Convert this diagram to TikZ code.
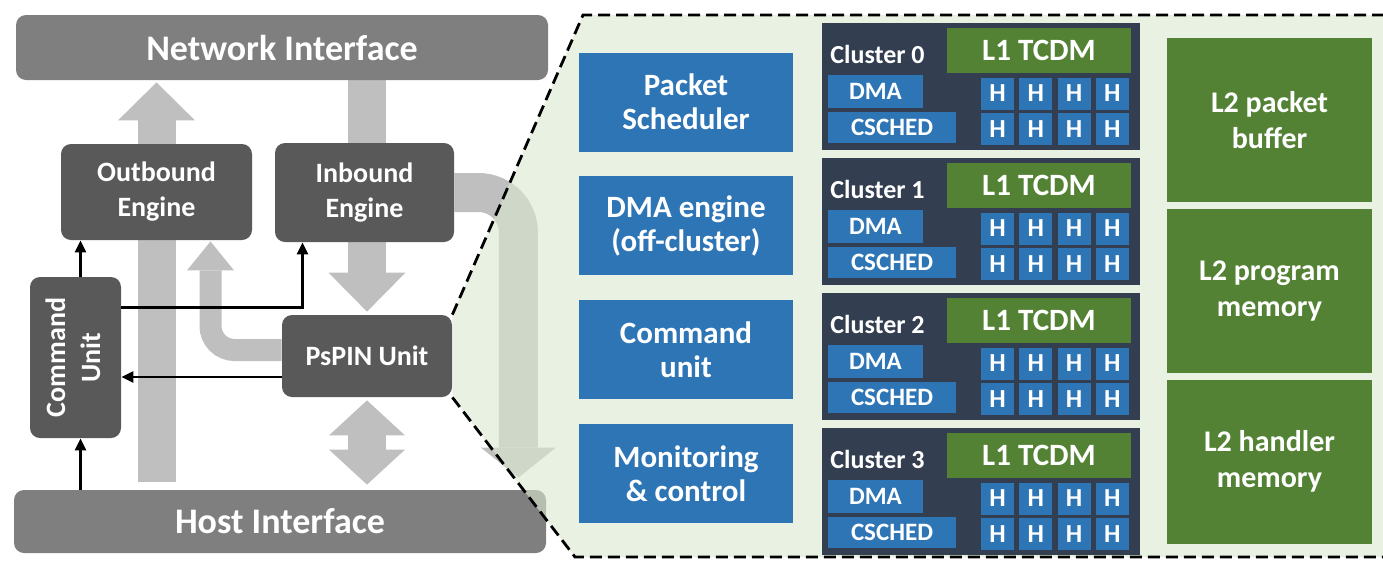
\documentclass[tikz,border=0pt]{standalone}
\usepackage{fontspec}
\setmainfont{Carlito}
\usepackage{tikz}
\usetikzlibrary{positioning,arrows.meta,backgrounds}

\definecolor{ifgray}{HTML}{7F7F7F}
\definecolor{enggray}{HTML}{595959}
\definecolor{flowgray}{HTML}{BFBFBF}
\definecolor{unitblue}{HTML}{2E75B6}
\definecolor{clnavy}{HTML}{333F50}
\definecolor{memgreen}{HTML}{548235}
\definecolor{panelgreen}{RGB}{218,232,208}

\begin{document}
\begin{tikzpicture}[x=0.5pt,y=-0.5pt,node distance=3pt,
    wtext/.style={text=white,align=center,inner sep=0pt},
    ifbox/.style={wtext,fill=ifgray,rounded corners=5pt,minimum width=266pt,font=\bfseries\fontsize{18}{21}\selectfont},
    engbox/.style={wtext,fill=enggray,rounded corners=5pt,font=\bfseries\fontsize{14}{17.5}\selectfont},
    unitbox/.style={wtext,fill=unitblue,minimum width=107pt,minimum height=49.5pt,font=\bfseries\fontsize{15.5}{17}\selectfont},
    clbox/.style={fill=clnavy,minimum width=159pt,minimum height=63.5pt,inner sep=0pt},
    tcdm/.style={wtext,fill=memgreen,minimum width=92pt,minimum height=22.5pt,font=\bfseries\fontsize{15.5}{18}\selectfont},
    clblock/.style={wtext,fill=unitblue,minimum height=16.5pt,font=\bfseries\fontsize{12.5}{15}\selectfont},
    hcell/.style={wtext,fill=unitblue,minimum width=16.5pt,minimum height=16pt,font=\bfseries\fontsize{13}{15}\selectfont},
    l2box/.style={wtext,fill=memgreen,minimum width=102.5pt,minimum height=82pt,font=\bfseries\fontsize{15}{18}\selectfont},
    bigflow/.style={draw=flowgray,line width=19pt},
    smallflow/.style={draw=flowgray,line width=11pt},
    ctrl/.style={draw=black,line width=1.4pt,-{Triangle[length=6pt,width=5.5pt]}},
    zoomline/.style={draw=black,line width=1.4pt,dash pattern=on 6pt off 3pt}
]
\useasboundingbox (0,0) rectangle (1383,563);

% blocks of the NIC
\node[ifbox,minimum height=32.5pt] (ni) at (282,47.5) {Network Interface};
\node[ifbox,minimum height=31.5pt] (host) at (280,521.5) {Host Interface};
\node[engbox,minimum width=95.5pt,minimum height=48pt] (out) at (156.5,192) {Outbound\\Engine};
\node[engbox,minimum width=89.5pt,minimum height=49.5pt] (in) at (364.5,192.5) {Inbound\\Engine};
\node[engbox,minimum width=85pt,minimum height=41pt] (psp) at (367,356) {PsPIN Unit};
\node[engbox,minimum width=45.5pt,minimum height=80.5pt] (cmd) at (75.5,357.5)
    {\rotatebox{90}{\begin{tabular}{@{}c@{}}Command\\Unit\end{tabular}}};

% data flows (under the blocks)
\begin{scope}[on background layer]
\draw[bigflow,shorten <=4pt,shorten >=1pt,-{Triangle[length=19pt,width=38.5pt,line width=0pt]}]
    (host.north -| out.center) -- (ni.south -| out.center);
\draw[bigflow,shorten >=1.5pt,-{Triangle[length=19.5pt,width=38.5pt,line width=0pt]}]
    (ni.south -| psp.center) -- (psp.north);
\draw[bigflow,shorten <=1.5pt,shorten >=2.5pt,
    {Triangle[length=17.5pt,width=38pt,line width=0pt]}-{Triangle[length=17.5pt,width=38pt,line width=0pt]}]
    (psp.south) -- (psp.south |- host.north);
\draw[draw=flowgray,line width=19.5pt,rounded corners=20pt,shorten >=6pt,
    -{Triangle[length=15pt,width=37.5pt,line width=0pt]}]
    (in.east) -| ([xshift=-14pt]host.north east);
\draw[smallflow,rounded corners=12pt,shorten >=0.5pt,
    -{Triangle[length=14.5pt,width=23.5pt,line width=0pt]}]
    ([yshift=3pt]psp.west) -| ([xshift=27pt]out.south);
\end{scope}

% control paths
\coordinate (cmdx) at ([xshift=2.5pt]cmd.center);
\coordinate (cmdout) at ([yshift=25pt]cmd.east);
\coordinate (inin) at ([xshift=-31pt]in.south);
\coordinate (pspout) at ([yshift=-10.5pt]psp.west);
\draw[ctrl] (cmdx |- host.north) -- (cmdx |- cmd.south);
\draw[ctrl] (cmdx |- cmd.north) -- (cmdx |- out.south);
\draw[ctrl] (cmdout) -| (inin);
\draw[ctrl] (pspout) -- (pspout -| cmd.east);

% zoomed-in PsPIN unit
\fill[panelgreen,fill opacity=0.6] (psp.north east) -- (583,15) -- (1383,15)
    -- (1383,557) -- (575,557) -- (psp.south east) -- cycle;
\draw[zoomline] (psp.north east) -- (583,15) -- (1383,15);
\draw[zoomline] (psp.south east) -- (575,557) -- (1383,557);

\node[unitbox] (sched) at (686,102) {Packet\\Scheduler};
\node[unitbox,below=12pt of sched] (dmaeng) {DMA engine\\(off-cluster)};
\node[unitbox,below=12pt of dmaeng] (cmdunit) {Command\\unit};
\node[unitbox,below=12pt of cmdunit] (monit) {Monitoring\\\& control};

\foreach \k in {0,...,3} {
    \node[clbox] (cl\k) at (981,{86.5+135*\k}) {};
    \node[wtext,anchor=base west,font=\bfseries\fontsize{13}{15}\selectfont] (cllbl\k) at (830,{63+135*\k}) {Cluster \k};
    \node[tcdm] (tcdm\k) at (1039,{50.5+135*\k}) {L1 TCDM};
    \node[clblock,minimum width=47.5pt] (dma\k) at (875.5,{91.5+135*\k}) {DMA};
    \node[clblock,minimum width=64pt,minimum height=15.5pt] (csched\k) at (892,{127.5+135*\k}) {CSCHED};
    \foreach \j in {0,...,3}
        \foreach \r in {0,1}
            \node[hcell] (h\k\j\r) at ({997.5+38.3*\j},{93.5+35.5*\r+135*\k}) {H};
}

\node[l2box] (l2pkt) at (1269.5,120) {L2 packet\\buffer};
\node[l2box,below=3pt of l2pkt] (l2prog) {L2 program\\memory};
\node[l2box,below=3pt of l2prog] (l2hdl) {L2 handler\\memory};
\end{tikzpicture}
\end{document}
